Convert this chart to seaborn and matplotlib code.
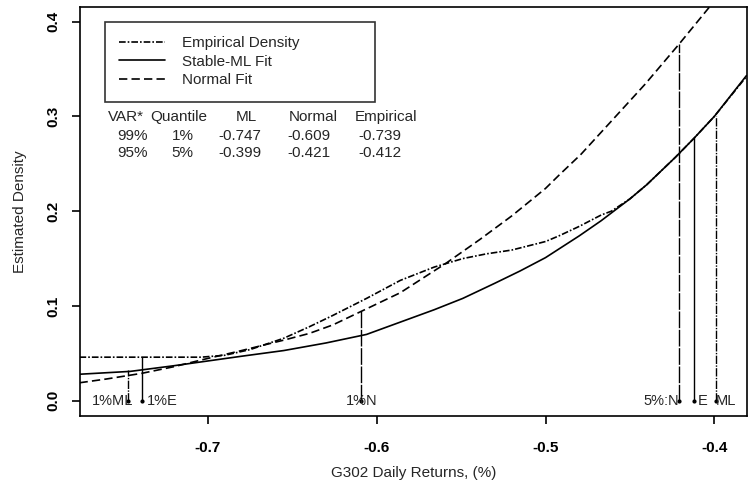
import numpy as np
import pandas as pd
import matplotlib
matplotlib.use("Agg")
import matplotlib.pyplot as plt
import seaborn as sns

sns.set_style("white")
plt.rcParams["font.family"] = ["Liberation Sans", "DejaVu Sans"]

# --------------------------------------------------------------------------
# Data
# --------------------------------------------------------------------------
emp_x = [-0.776, -0.76, -0.739, -0.72, -0.704, -0.69, -0.675, -0.655, -0.64,
         -0.626, -0.606, -0.586, -0.566, -0.549, -0.535, -0.52, -0.50, -0.492,
         -0.48, -0.467, -0.461, -0.45, -0.44, -0.423, -0.412, -0.40, -0.381]
emp_y = [0.046, 0.046, 0.046, 0.046, 0.046, 0.048, 0.054, 0.066, 0.078,
         0.090, 0.108, 0.127, 0.141, 0.150, 0.155, 0.159, 0.168, 0.174,
         0.184, 0.196, 0.200, 0.213, 0.228, 0.257, 0.277, 0.300, 0.342]

ml_x = [-0.776, -0.746, -0.72, -0.704, -0.68, -0.655, -0.63, -0.606, -0.586,
        -0.566, -0.549, -0.53, -0.515, -0.50, -0.48, -0.467, -0.45, -0.44,
        -0.423, -0.412, -0.40, -0.381]
ml_y = [0.028, 0.031, 0.037, 0.041, 0.047, 0.053, 0.061, 0.070, 0.083,
        0.096, 0.108, 0.124, 0.137, 0.151, 0.174, 0.190, 0.213, 0.228,
        0.257, 0.277, 0.300, 0.343]

norm_x = [-0.776, -0.76, -0.739, -0.72, -0.704, -0.68, -0.655, -0.64, -0.626,
          -0.606, -0.586, -0.566, -0.559, -0.539, -0.52, -0.50, -0.492, -0.479,
          -0.461, -0.441, -0.421, -0.404, -0.395]
norm_y = [0.019, 0.023, 0.029, 0.036, 0.043, 0.053, 0.064, 0.071, 0.080,
          0.097, 0.114, 0.137, 0.145, 0.170, 0.195, 0.224, 0.238, 0.260,
          0.295, 0.334, 0.376, 0.413, 0.433]

# VaR markers
var_x = [-0.747, -0.739, -0.609, -0.421, -0.412, -0.399]
var_top = [0.032, 0.046, 0.095, 0.376, 0.277, 0.300]
var_lab = ["1%ML", "1%E", "1%N", "5%:N", "E", "ML"]
var_kind = ["ML", "E", "N", "N", "E", "ML"]

tbl_head = ["VAR*", "Quantile", "ML", "Normal", "Empirical"]
tbl_rows = [["99%", "1%", "-0.747", "-0.609", "-0.739"],
            ["95%", "5%", "-0.399", "-0.421", "-0.412"]]

# --------------------------------------------------------------------------
# Plot
# --------------------------------------------------------------------------
fig = plt.figure(figsize=(7.48, 4.94), dpi=100)
ax = fig.add_axes([0.107, 0.158, 0.892, 0.828])

df = pd.concat([
    pd.DataFrame({"x": emp_x, "y": emp_y, "s": "Empirical Density"}),
    pd.DataFrame({"x": ml_x, "y": ml_y, "s": "Stable-ML Fit"}),
    pd.DataFrame({"x": norm_x, "y": norm_y, "s": "Normal Fit"}),
])
dash_map = {"Empirical Density": (4, 1.2, 1, 1.2),
            "Stable-ML Fit": "",
            "Normal Fit": (5, 2.5)}
sns.lineplot(data=df, x="x", y="y", hue="s", style="s", dashes=dash_map,
             palette=["black"] * 3, sort=False, estimator=None,
             linewidth=1.2, ax=ax, legend=True)

ls_map = {"ML": (0, (6, 1, 1, 1)), "E": "-", "N": (0, (12, 1.2))}
for xv, top, k in zip(var_x, var_top, var_kind):
    ax.plot([xv, xv], [0, top], color="black", lw=1.0, linestyle=ls_map[k])
    ax.plot([xv], [0], marker="o", ms=2, color="black")

# labels of VaR lines
lab_pos = {"1%ML": (-0.744, "right"), "1%E": (-0.736, "left"),
           "1%N": (-0.609, "center"), "5%:N": (-0.421, "right"),
           "E": (-0.410, "left"), "ML": (-0.399, "left")}
for lab in var_lab:
    xp, ha = lab_pos[lab]
    ax.text(xp, 0.0, lab, ha=ha, va="center", fontsize=10.5)

ax.set_xlim(-0.7757, -0.3805)
ax.set_ylim(-0.016, 0.4155)
ax.set_xticks([-0.7, -0.6, -0.5, -0.4])
ax.set_xticklabels(["-0.7", "-0.6", "-0.5", "-0.4"], fontweight="bold")
ax.set_yticks([0.0, 0.1, 0.2, 0.3, 0.4])
ax.set_yticklabels(["0.0", "0.1", "0.2", "0.3", "0.4"], rotation=90,
                   va="center", fontweight="bold")
ax.tick_params(axis="both", direction="out", length=6, width=1.2,
               labelsize=11, colors="black", bottom=True, left=True)
ax.tick_params(axis="x", pad=12)
ax.tick_params(axis="y", pad=8)
for sp in ax.spines.values():
    sp.set_color("black")
    sp.set_linewidth(1.2)

ax.set_xlabel("G302 Daily Returns, (%)", fontsize=11, labelpad=8)
ax.set_ylabel("Estimated Density", fontsize=11, labelpad=14)

leg = ax.legend(loc="upper left", bbox_to_anchor=(0.037, 0.6, 0.405, 0.364),
                mode="expand", borderaxespad=0,
                frameon=True, fancybox=False, edgecolor="black",
                fontsize=11, handlelength=3.0, handletextpad=1.1,
                borderpad=0.95, labelspacing=0.3)
leg.get_frame().set_linewidth(1.2)
leg.set_title(None)

# VaR table
head_x = [0.069, 0.148, 0.249, 0.350, 0.458]
row_x = [0.079, 0.154, 0.240, 0.343, 0.449]
head_y = 0.732
row_y = [0.685, 0.643]
for cx, h in zip(head_x, tbl_head):
    ax.text(cx, head_y, h, transform=ax.transAxes, ha="center", va="center",
            fontsize=11)
for ry, row in zip(row_y, tbl_rows):
    for cx, v in zip(row_x, row):
        ax.text(cx, ry, v, transform=ax.transAxes, ha="center", va="center",
                fontsize=11)

fig.savefig("out.png", dpi=100)
